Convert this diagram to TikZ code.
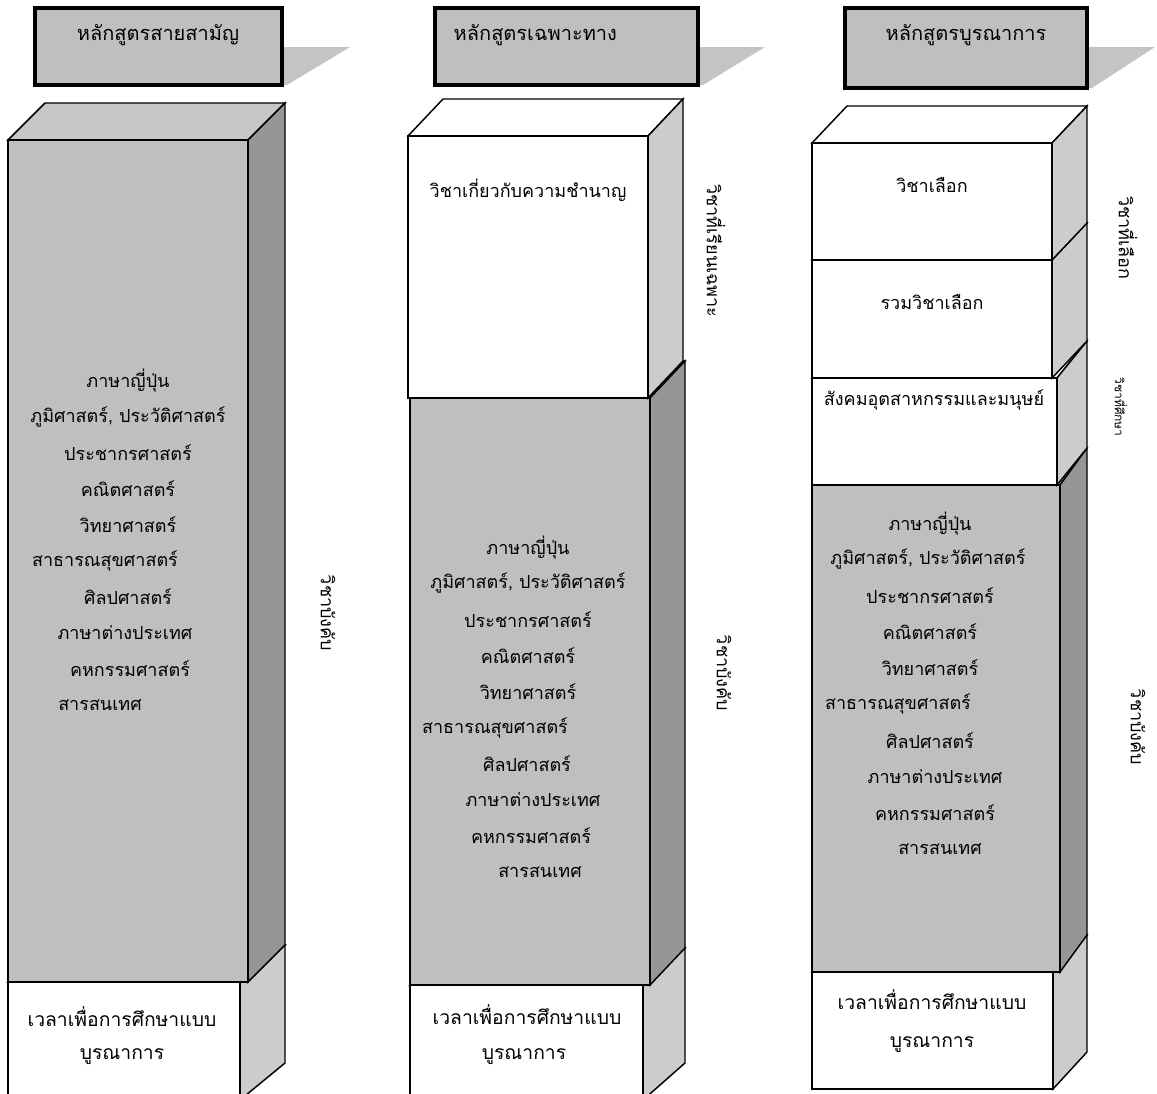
\documentclass[tikz,border=0pt]{standalone}
\usepackage{fontspec}
\newfontfamily\thaifont[Script=Thai]{Loma}
\usetikzlibrary{positioning}

\definecolor{facegrey}{gray}{0.75}
\definecolor{topgrey}{gray}{0.78}
\definecolor{darkgrey}{gray}{0.59}
\definecolor{lightgrey}{gray}{0.8}
\definecolor{shadowgrey}{gray}{0.77}

%% block: x1, y1 (top), x2, y2 (bottom), depth, front, side, top
\newcommand{\prism}[8]{%
  \draw[fill=#8] (#1,#2) -- ++(#5,-37) -- (#3+#5,#2-37) -- (#3,#2) -- cycle;
  \draw[fill=#7] (#3,#2) -- (#3+#5,#2-37) -- (#3+#5,#4-37) -- (#3,#4) -- cycle;
  \draw[fill=#6] (#1,#2) rectangle (#3,#4);%
}

\begin{document}
\begin{tikzpicture}[
      x=0.75pt, y=-0.75pt,%
      line width=1.1pt,%
      headbox/.style={draw, line width=3pt, fill=facegrey},%
      subj/.style={font=\thaifont\fontsize{13.5}{15}\selectfont, inner sep=0pt},%
      headtxt/.style={subj, font=\thaifont\fontsize{15}{17}\selectfont},%
      bottxt/.style={subj, font=\thaifont\fontsize{14.5}{17}\selectfont},%
      vlab/.style={subj, rotate=-90},%
      smalllab/.style={vlab, font=\thaifont\fontsize{9}{10}\selectfont}%
    ]
    \useasboundingbox (0,0) rectangle (1157,1093);
    \clip (0,0) rectangle (1157,1093);

    %% Headers with their shadows
    \fill[shadowgrey] (282,47) -- (350,47) -- (287,85) -- (282,85) -- cycle;
    \draw[headbox] (35,8) rectangle (282,85);
    \node[headtxt] (head1) at (158,35) {หลักสูตรสายสามัญ};

    \fill[shadowgrey] (698,47) -- (765,47) -- (703,85) -- (698,85) -- cycle;
    \draw[headbox] (435,8) rectangle (698,85);
    \node[headtxt, anchor=west] (head2) at (453,35) {หลักสูตรเฉพาะทาง};

    \fill[shadowgrey] (1087,47) -- (1155,47) -- (1092,88) -- (1087,88) -- cycle;
    \draw[headbox] (845,8) rectangle (1087,88);
    \node[headtxt] (head3) at (966,35) {หลักสูตรบูรณาการ};

    %% Column 1
    \prism{8}{982}{240}{1100}{45}{white}{lightgrey}{white}
    \prism{8}{140}{248}{982}{37}{facegrey}{darkgrey}{topgrey}

    \foreach \t/\dx [count=\i] in {ภาษาญี่ปุ่น/0, {ภูมิศาสตร์, ประวัติศาสตร์}/0,
        ประชากรศาสตร์/0, คณิตศาสตร์/0, วิทยาศาสตร์/0, สาธารณสุขศาสตร์/-23,
        ศิลปศาสตร์/0, ภาษาต่างประเทศ/-3, คหกรรมศาสตร์/2, สารสนเทศ/-28}
      \node[subj] (ga\i) at (128+\dx,345+36*\i) {\t};

    \node[bottxt] (ga11) at (122,1017) {เวลาเพื่อการศึกษาแบบ};
    \node[bottxt] (ga12) at (122,1057) {บูรณาการ};
    \node[vlab] (la1) at (328,613) {วิชาบังคับ};

    %% Column 2
    \prism{410}{985}{643}{1100}{42}{white}{lightgrey}{white}
    \prism{410}{398}{650}{985}{35}{facegrey}{darkgrey}{topgrey}
    \prism{408}{136}{648}{398}{35}{white}{lightgrey}{white}

    \node[subj] (gb0) at (528,190) {วิชาเกี่ยวกับความชำนาญ};
    \foreach \t/\dx [count=\i] in {ภาษาญี่ปุ่น/0, {ภูมิศาสตร์, ประวัติศาสตร์}/0,
        ประชากรศาสตร์/0, คณิตศาสตร์/0, วิทยาศาสตร์/0, สาธารณสุขศาสตร์/-33,
        ศิลปศาสตร์/-1, ภาษาต่างประเทศ/5, คหกรรมศาสตร์/3, สารสนเทศ/12}
      \node[subj] (gb\i) at (528+\dx,511+36.1*\i) {\t};

    \node[bottxt] (gb11) at (527,1015) {เวลาเพื่อการศึกษาแบบ};
    \node[bottxt] (gb12) at (524,1057) {บูรณาการ};
    \node[vlab] (lb1) at (716,251) {วิชาที่เรียนเฉพาะ};
    \node[vlab] (lb2) at (724,673) {วิชาบังคับ};

    %% Column 3
    \prism{812}{972}{1053}{1089}{34}{white}{lightgrey}{white}
    \prism{812}{485}{1060}{972}{27}{facegrey}{darkgrey}{topgrey}
    \prism{812}{378}{1057}{485}{30}{white}{lightgrey}{white}
    \prism{812}{260}{1052}{378}{35}{white}{lightgrey}{white}
    \prism{812}{143}{1052}{260}{35}{white}{lightgrey}{white}

    \node[subj] (gc0) at (932,185) {วิชาเลือก};
    \node[subj] (gc00) at (932,302) {รวมวิชาเลือก};
    \node[subj] (gc000) at (934,400) {สังคมอุตสาหกรรมและมนุษย์};
    \foreach \t/\dx [count=\i] in {ภาษาญี่ปุ่น/0, {ภูมิศาสตร์, ประวัติศาสตร์}/-2,
        ประชากรศาสตร์/0, คณิตศาสตร์/0, วิทยาศาสตร์/0, สาธารณสุขศาสตร์/-32,
        ศิลปศาสตร์/0, ภาษาต่างประเทศ/5, คหกรรมศาสตร์/5, สารสนเทศ/10}
      \node[subj] (gc\i) at (930+\dx,487+36.2*\i) {\t};

    \node[bottxt] (gc11) at (932,1000) {เวลาเพื่อการศึกษาแบบ};
    \node[bottxt] (gc12) at (932,1045) {บูรณาการ};
    \node[vlab] (lc1) at (1128,238) {วิชาที่เลือก};
    \node[smalllab] (lc2) at (1121,407) {วิชาที่ศึกษา};
    \node[vlab] (lc3) at (1138,727) {วิชาบังคับ};
  \end{tikzpicture}
\end{document}
